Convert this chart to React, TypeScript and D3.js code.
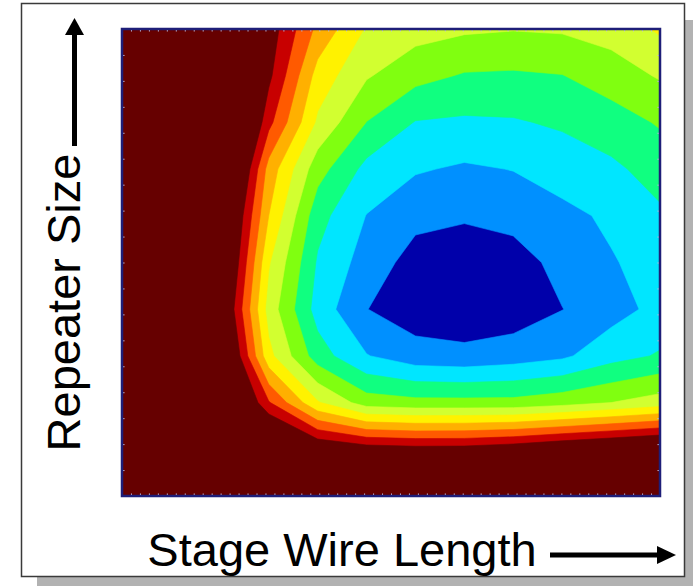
import React, { useEffect, useRef } from 'react';
import * as d3 from 'd3';

// sampled delay surface, top row = largest repeater size, left col = shortest wire
const row00 = [15, 14, 12.5, 10.6, 7.74, 5.9, 5.4, 5.15, 5.05, 5.12, 5.4, 6.15];
const row01 = [15, 14, 12.0, 10.25, 6.6, 5.1, 4.32, 3.91, 3.86, 3.97, 4.5, 5.1];
const row02 = [15, 14.5, 14.4, 9.3, 5.82, 3.98, 2.95, 2.84, 2.9, 3.15, 3.53, 4.1];
const row03 = [15, 14.5, 13.85, 7.6, 4.41, 2.7, 2.1, 1.86, 2.03, 2.39, 2.8, 3.4];
const row04 = [15, 14, 12.7, 7.0, 3.36, 1.97, 1.28, 1.13, 1.34, 1.77, 2.15, 2.84];
const row05 = [15, 14, 12.43, 6.1, 2.88, 1.57, 0.6, 0.35, 0.55, 1.33, 1.93, 2.35];
const row06 = [15, 14, 11.8, 5.57, 2.58, 1.02, 0.45, 0.3, 0.45, 0.98, 1.6, 2.3];
const row07 = [15, 14, 12.6, 6.3, 3.48, 2.05, 1.41, 1.28, 1.5, 1.82, 2.62, 3.1];
const row08 = [15, 14.5, 13.2, 9.1, 6.1, 4.5, 4.3, 4.3, 4.3, 4.6, 5.0, 5.45];
const row09 = [15, 15, 14, 12.8, 11.1, 10.56, 10.4, 10.43, 10.73, 11.2, 11.6, 12.0];
const row10 = [15, 15, 15, 14.5, 14, 13.5, 13.2, 13.2, 13.3, 13.5, 13.8, 14];
const delayRows = [row00, row01, row02, row03, row04, row05, row06, row07, row08, row09, row10];

const wireSteps = [0, 1, 2, 3, 4, 5, 6, 7, 8, 9, 10, 11];
const sizeSteps = [0, 1, 2, 3, 4, 5, 6, 7, 8, 9, 10];

const levels = [0, 1, 2, 3, 4, 5, 6, 7, 8, 9, 10];
const bandColors = [
  '#0000aa', '#0090ff', '#00e6ff', '#10ff80', '#80ff10', '#d2ff30',
  '#fff200', '#ffb000', '#ff5a00', '#c80000', '#660000'
];

const xLabel = 'Stage Wire Length';
const yLabel = 'Repeater Size';

export default function App() {
  const ref = useRef<SVGSVGElement>(null);

  useEffect(() => {
    const svg = d3.select(ref.current);
    svg.selectAll('*').remove();

    var left = 122, top = 29, right = 660, bottom = 496;
    var nx = wireSteps.length, ny = sizeSteps.length;

    // frame + shadow
    svg.append('rect').attr('x', 37).attr('y', 20).attr('width', 656).attr('height', 566)
      .attr('fill', '#b2b2b2');
    svg.append('rect').attr('x', 21.5).attr('y', 3.5).attr('width', 663).attr('height', 573)
      .attr('fill', '#fff').attr('stroke', '#3a3a3a').attr('stroke-width', 1.5);

    const x = d3.scaleLinear().domain([wireSteps[0], wireSteps[nx - 1]]).range([left, right]);
    const y = d3.scaleLinear().domain([sizeSteps[0], sizeSteps[ny - 1]]).range([top, bottom]);

    svg.append('defs').append('clipPath').attr('id', 'plotClip')
      .append('rect').attr('x', left).attr('y', top)
      .attr('width', right - left).attr('height', bottom - top);

    const contours = d3.contours().size([nx, ny]).thresholds(levels)(delayRows.flat());
    const proj = d3.geoTransform({
      point: function (px, py) { this.stream.point(x(px - 0.5), y(py - 0.5)); }
    });
    const path = d3.geoPath(proj);

    svg.append('g').attr('clip-path', 'url(#plotClip)')
      .selectAll('path')
      .data(contours)
      .join('path')
      .attr('d', path)
      .attr('fill', (d, i) => bandColors[i])
      .attr('stroke', (d, i) => bandColors[i])
      .attr('stroke-width', 0.6);

    // tiny inner ticks
    const tickX = d3.scaleLinear().domain([0, 60]).range([left, right]);
    const tickY = d3.scaleLinear().domain([0, 18]).range([top, bottom]);
    const tickCol = '#c8c0dc';
    const gt = svg.append('g').attr('transform', 'translate(0,' + top + ')')
      .call(d3.axisTop(tickX).ticks(60).tickSize(-2.5).tickFormat(() => ''));
    const gb = svg.append('g').attr('transform', 'translate(0,' + bottom + ')')
      .call(d3.axisBottom(tickX).ticks(60).tickSize(-2.5).tickFormat(() => ''));
    const gl = svg.append('g').attr('transform', 'translate(' + left + ',0)')
      .call(d3.axisLeft(tickY).ticks(18).tickSize(-2.5).tickFormat(() => ''));
    const gr = svg.append('g').attr('transform', 'translate(' + right + ',0)')
      .call(d3.axisRight(tickY).ticks(18).tickSize(-2.5).tickFormat(() => ''));
    [gt, gb, gl, gr].forEach(g => {
      g.select('.domain').remove();
      g.selectAll('line').attr('stroke', tickCol).attr('stroke-width', 1);
    });

    svg.append('rect').attr('x', left).attr('y', top)
      .attr('width', right - left).attr('height', bottom - top)
      .attr('fill', 'none').attr('stroke', '#1e1e78').attr('stroke-width', 2.5);

    // axis labels with arrows
    svg.append('text')
      .attr('transform', 'translate(80,302.5) rotate(-90)')
      .attr('text-anchor', 'middle')
      .style('font-family', '"Liberation Sans", Arial, sans-serif')
      .style('font-size', '47px')
      .attr('fill', '#000')
      .text(yLabel);
    svg.append('line').attr('x1', 74.5).attr('x2', 74.5).attr('y1', 146).attr('y2', 33)
      .attr('stroke', '#000').attr('stroke-width', 5);
    svg.append('path').attr('d', 'M65,35 L84,35 L74.5,18 Z').attr('fill', '#000');

    svg.append('text')
      .attr('x', 342).attr('y', 566)
      .attr('text-anchor', 'middle')
      .style('font-family', '"Liberation Sans", Arial, sans-serif')
      .style('font-size', '47px')
      .attr('fill', '#000')
      .text(xLabel);
    svg.append('line').attr('x1', 550).attr('x2', 659).attr('y1', 555).attr('y2', 555)
      .attr('stroke', '#000').attr('stroke-width', 5);
    svg.append('path').attr('d', 'M657,546 L657,564 L676,555 Z').attr('fill', '#000');
  }, []);

  return (
    <svg ref={ref} width={695} height={586}
      style={{ position: 'absolute', left: 0, top: 0, background: '#fff' }} />
  );
}
